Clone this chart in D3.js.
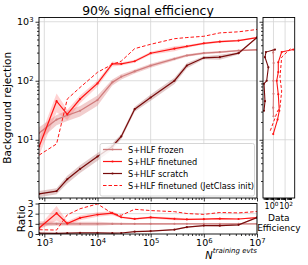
<!DOCTYPE html>
<html>
<head>
<meta charset="utf-8">
<script src="https://cdn.jsdelivr.net/npm/d3@7"></script>
<style>
body { margin: 0; background: #fff; }
text { font-family: "DejaVu Sans", sans-serif; fill: #000; }
</style>
</head>
<body>
<div id="chart"></div>
<script>
// training set sizes and background rejection at 90% signal eff.
const nEvts     = [800, 1700, 2700, 4700, 1e4, 1.9e4, 2.8e4, 5e4, 1e5, 2.8e5, 4.8e5, 1e6, 2e6, 4.5e6, 1e7];
const frozen    = [13, 22, 26, 31, 47, 94, 117, 144, 180, 235, 268, 294, 306, 325, 335];
const finetuned = [7.7, 45, 27, 49, 90, 193, 193, 214, 293, 350, 383, 430, 460, 480, 540];
const scratch   = [1.21, 1.35, 2.14, 3.2, 5.2, 7.7, 11.4, 33, 52, 100, 181, 245, 251, 293, 540];
const jetclass  = [5.5, 8.5, 49, 77, 139, 190, 215, 350, 415, 516, 540, 567, 647, 675, 740];
// relative uncertainty (band half-width)
const frozenErr = [0.25, 0.2, 0.2, 0.2, 0.2, 0.12, 0.1, 0.08, 0.08, 0.06, 0.05, 0.04, 0.04, 0.03, 0.03];
const fineErr   = [0.3, 0.35, 0.2, 0.15, 0.12, 0.1, 0.06, 0.06, 0.06, 0.1, 0.05, 0.04, 0.04, 0.03, 0.03];
const scratchErr = [0.12, 0.12, 0.15, 0.15, 0.15, 0.12, 0.1, 0.1, 0.12, 0.12, 0.1, 0.06, 0.1, 0.05, 0.03];

// side panel: data efficiency vs rejection
const sideScratchEff = [1.8, 0.05, 0.034, 0.13, 0.067, 0.023, 0.034, 0.023];
const sideScratchRej = [338, 306, 251, 169, 100, 89, 45, 31];
const sideFrozenEff  = [1.0, 0.9, 1.05, 0.95, 1.0, 0.9, 1.0];
const sideFrozenRej  = [330, 300, 200, 100, 60, 35, 25];
const sideFineEff    = [2600, 26, 6.7, 6.7, 3.6, 6.7, 10, 5, 0.9];
const sideFineRej    = [338, 306, 206, 140, 100, 59, 31, 22, 12.5];
const sideJetEff     = [850, 26, 13, 26, 13, 5.3, 0.25];
const sideJetRej     = [348, 251, 114, 67, 35, 31, 13.8];

const legendLabels = ["S+HLF frozen", "S+HLF finetuned", "S+HLF scratch", "S+HLF finetuned (JetClass init)"];

const cFrozen = "#d07c7c", cFine = "#ff1414", cScratch = "#780c0c", cJet = "#ff1414";

const W = 308, H = 265;
const main = {left: 39, right: 257, top: 17.5, bottom: 198};
const side = {left: 263, right: 294.7};
const rat = {top: 203.5, bottom: 234};

const svg = d3.select("#chart").append("svg").attr("width", W).attr("height", H);

const x = d3.scaleLog().domain([794, 1e7]).range([main.left, main.right]);
const y = d3.scaleLog().domain([1.03, 1180]).range([main.bottom, main.top]);
const xs = d3.scaleLog().domain([Math.pow(10, -1.81), Math.pow(10, 3.66)]).range([side.left, side.right]);
const yr = d3.scaleLinear().domain([0, 3]).range([rat.bottom, rat.top]);

const isMajor = d => Math.abs(Math.log10(d) - Math.round(Math.log10(d))) < 1e-6;
const xMaj = x.ticks().filter(isMajor), xMin = x.ticks().filter(d => !isMajor(d));
const yMaj = y.ticks().filter(isMajor), yMin = y.ticks().filter(d => !isMajor(d));
const xsMaj = [1, 100];
const xsMin = xs.ticks().filter(d => !xsMaj.includes(d) && (isMajor(d) || d < 1000));

function supLabels(g, fs) {
  g.selectAll(".tick text").each(function(d) {
    const t = d3.select(this);
    t.text("10").attr("font-size", fs);
    t.append("tspan").attr("dy", "-0.45em").attr("font-size", "0.72em").text(Math.round(Math.log10(d)));
  });
}

// clip paths
const defs = svg.append("defs");
defs.append("clipPath").attr("id", "cm").append("rect")
  .attr("x", main.left).attr("y", main.top).attr("width", main.right - main.left).attr("height", main.bottom - main.top);
defs.append("clipPath").attr("id", "cs").append("rect")
  .attr("x", side.left).attr("y", main.top).attr("width", side.right - side.left).attr("height", main.bottom - main.top);
defs.append("clipPath").attr("id", "cr").append("rect")
  .attr("x", main.left).attr("y", rat.top).attr("width", main.right - main.left).attr("height", rat.bottom - rat.top);

// grids
const grid = svg.append("g").attr("stroke", "#d4d4d4").attr("stroke-width", 0.8);
xMaj.forEach(d => {
  grid.append("line").attr("x1", x(d)).attr("x2", x(d)).attr("y1", main.top).attr("y2", main.bottom);
  grid.append("line").attr("x1", x(d)).attr("x2", x(d)).attr("y1", rat.top).attr("y2", rat.bottom);
});
yMaj.forEach(d => {
  grid.append("line").attr("x1", main.left).attr("x2", main.right).attr("y1", y(d)).attr("y2", y(d));
  grid.append("line").attr("x1", side.left).attr("x2", side.right).attr("y1", y(d)).attr("y2", y(d));
});
xsMaj.forEach(d => grid.append("line").attr("x1", xs(d)).attr("x2", xs(d)).attr("y1", main.top).attr("y2", main.bottom));
[1, 2].forEach(d => grid.append("line").attr("x1", main.left).attr("x2", main.right).attr("y1", yr(d)).attr("y2", yr(d)));

// main panel
const pm = svg.append("g").attr("clip-path", "url(#cm)");
function band(g, vals, err, col, op, yScale) {
  const pts = nEvts.map((n, i) => [n, vals[i], err[i]]);
  g.append("path").datum(pts)
    .attr("fill", col).attr("opacity", op)
    .attr("d", d3.area().x(d => x(d[0])).y0(d => yScale(d[1] * (1 - d[2]))).y1(d => yScale(d[1] * (1 + d[2])))(pts));
}
function curve(g, xv, yv, xScale, yScale, col, lw, dash, markers) {
  const pts = xv.map((v, i) => [v, yv[i]]);
  g.append("path").datum(pts).attr("fill", "none").attr("stroke", col).attr("stroke-width", lw)
    .attr("stroke-dasharray", dash || null)
    .attr("d", d3.line().x(d => xScale(d[0])).y(d => yScale(d[1])));
  if (markers) {
    g.selectAll(null).data(pts).enter().append("circle")
      .attr("cx", d => xScale(d[0])).attr("cy", d => yScale(d[1])).attr("r", 1.1).attr("fill", col);
  }
}

band(pm, frozen, frozenErr, "#e8a6a6", 0.55, y);
band(pm, finetuned, fineErr, "#ff6a6a", 0.3, y);
band(pm, scratch, scratchErr, "#b87a7a", 0.4, y);
curve(pm, nEvts, frozen, x, y, cFrozen, 1.3, null, true);
curve(pm, nEvts, finetuned, x, y, cFine, 1.2, null, true);
curve(pm, nEvts, scratch, x, y, cScratch, 1.2, null, true);
curve(pm, nEvts, jetclass, x, y, cJet, 1.0, "3.5,2", false);

// ratio panel (relative to frozen)
const pr = svg.append("g").attr("clip-path", "url(#cr)");
const rFrozen = frozen.map(() => 1);
const rFine = finetuned.map((v, i) => v / frozen[i]);
const rScratch = scratch.map((v, i) => v / frozen[i]);
const rJet = jetclass.map((v, i) => v / frozen[i]);
band(pr, rFrozen, frozenErr, "#e8a6a6", 0.55, yr);
band(pr, rFine, fineErr, "#ff6a6a", 0.3, yr);
band(pr, rScratch, scratchErr, "#b87a7a", 0.4, yr);
curve(pr, nEvts, rFrozen, x, yr, cFrozen, 1.3, null, true);
curve(pr, nEvts, rFine, x, yr, cFine, 1.2, null, true);
curve(pr, nEvts, rScratch, x, yr, cScratch, 1.2, null, true);
curve(pr, nEvts, rJet, x, yr, cJet, 1.0, "3.5,2", false);

// side panel
const ps = svg.append("g").attr("clip-path", "url(#cs)");
curve(ps, sideFrozenEff, sideFrozenRej, xs, y, cFrozen, 1.1, null, true);
curve(ps, sideScratchEff, sideScratchRej, xs, y, cScratch, 1.1, null, true);
curve(ps, sideFineEff, sideFineRej, xs, y, cFine, 1.1, null, true);
curve(ps, sideJetEff, sideJetRej, xs, y, cJet, 1.0, "3,2", false);

// axes
function axisG(tr) { return svg.append("g").attr("transform", tr); }
function clean(g) { g.select(".domain").remove(); g.selectAll(".tick line").attr("stroke", "#000").attr("stroke-width", 0.8); }

// main y
let g = axisG(`translate(${main.left},0)`).call(d3.axisLeft(y).tickValues(yMaj).tickSize(3.5).tickPadding(2));
clean(g); supLabels(g, "9.5px");
g = axisG(`translate(${main.left},0)`).call(d3.axisLeft(y).tickValues(yMin).tickSize(2).tickFormat(""));
clean(g);
// main x (no labels)
g = axisG(`translate(0,${main.bottom})`).call(d3.axisBottom(x).tickValues(xMaj).tickSize(3.5).tickFormat(""));
clean(g);
g = axisG(`translate(0,${main.bottom})`).call(d3.axisBottom(x).tickValues(xMin).tickSize(2).tickFormat(""));
clean(g);
// side y (no labels)
g = axisG(`translate(${side.left},0)`).call(d3.axisLeft(y).tickValues(yMaj).tickSize(3.5).tickFormat(""));
clean(g);
g = axisG(`translate(${side.left},0)`).call(d3.axisLeft(y).tickValues(yMin).tickSize(2).tickFormat(""));
clean(g);
// side x
g = axisG(`translate(0,${main.bottom})`).call(d3.axisBottom(xs).tickValues(xsMaj).tickSize(3.5).tickPadding(1.5));
clean(g); supLabels(g, "8px");
g.selectAll(".tick text").attr("dx", d => d === 1 ? -2.5 : 0.5);
g = axisG(`translate(0,${main.bottom})`).call(d3.axisBottom(xs).tickValues(xsMin).tickSize(2).tickFormat(""));
clean(g);
// ratio y
g = axisG(`translate(${main.left},0)`).call(d3.axisLeft(yr).tickValues([0, 1, 2, 3]).tickSize(3.5).tickPadding(2).tickFormat(d3.format("d")));
clean(g); g.selectAll(".tick text").attr("font-size", "9.5px");
// ratio x
g = axisG(`translate(0,${rat.bottom})`).call(d3.axisBottom(x).tickValues(xMaj).tickSize(3.5).tickPadding(2));
clean(g); supLabels(g, "9.5px");
g = axisG(`translate(0,${rat.bottom})`).call(d3.axisBottom(x).tickValues(xMin).tickSize(2).tickFormat(""));
clean(g);

// frames
const frame = svg.append("g").attr("fill", "none").attr("stroke", "#000").attr("stroke-width", 0.9);
frame.append("rect").attr("x", main.left).attr("y", main.top).attr("width", main.right - main.left).attr("height", main.bottom - main.top);
frame.append("rect").attr("x", side.left).attr("y", main.top).attr("width", side.right - side.left).attr("height", main.bottom - main.top);
frame.append("rect").attr("x", main.left).attr("y", rat.top).attr("width", main.right - main.left).attr("height", rat.bottom - rat.top);

// legend
const lg = svg.append("g").attr("transform", "translate(100,143.5)");
lg.append("rect").attr("width", 154.5).attr("height", 52.5).attr("rx", 2)
  .attr("fill", "#fff").attr("fill-opacity", 0.8).attr("stroke", "#ccc").attr("stroke-width", 0.8);
const lgStyle = [
  {col: cFrozen, lw: 1.3, dash: null, mk: true},
  {col: cFine, lw: 1.2, dash: null, mk: true},
  {col: cScratch, lw: 1.2, dash: null, mk: true},
  {col: cJet, lw: 1.0, dash: "3.5,2", mk: false}
];
legendLabels.forEach((lab, i) => {
  const yy = 6 + i * 12;
  const s = lgStyle[i];
  lg.append("line").attr("x1", 3).attr("x2", 22).attr("y1", yy).attr("y2", yy)
    .attr("stroke", s.col).attr("stroke-width", s.lw).attr("stroke-dasharray", s.dash);
  if (s.mk) lg.append("circle").attr("cx", 12.5).attr("cy", yy).attr("r", 1.1).attr("fill", s.col);
  lg.append("text").attr("x", 28).attr("y", yy + 3).attr("font-size", "8.2px").text(lab);
});

// labels
svg.append("text").attr("x", (main.left + main.right) / 2).attr("y", 14.5)
  .attr("text-anchor", "middle").attr("font-size", "12.4px").text("90% signal efficiency");
svg.append("text").attr("transform", `translate(11,${(main.top + main.bottom) / 2}) rotate(-90)`)
  .attr("text-anchor", "middle").attr("font-size", "10.5px").text("Background rejection");
svg.append("text").attr("transform", `translate(24.5,${(rat.top + rat.bottom) / 2}) rotate(-90)`)
  .attr("text-anchor", "middle").attr("font-size", "10.5px").text("Ratio");
const xl = svg.append("text").attr("x", main.right).attr("y", 259).attr("text-anchor", "end")
  .attr("font-size", "10px").attr("font-style", "italic").text("N");
xl.append("tspan").attr("dy", -6).attr("font-size", "7px").text("training evts");
const sx = (side.left + side.right) / 2;
svg.append("text").attr("x", sx).attr("y", 221).attr("text-anchor", "middle").attr("font-size", "9px").text("Data");
svg.append("text").attr("x", sx).attr("y", 231).attr("text-anchor", "middle").attr("font-size", "9px").text("Efficiency");
</script>
</body>
</html>
